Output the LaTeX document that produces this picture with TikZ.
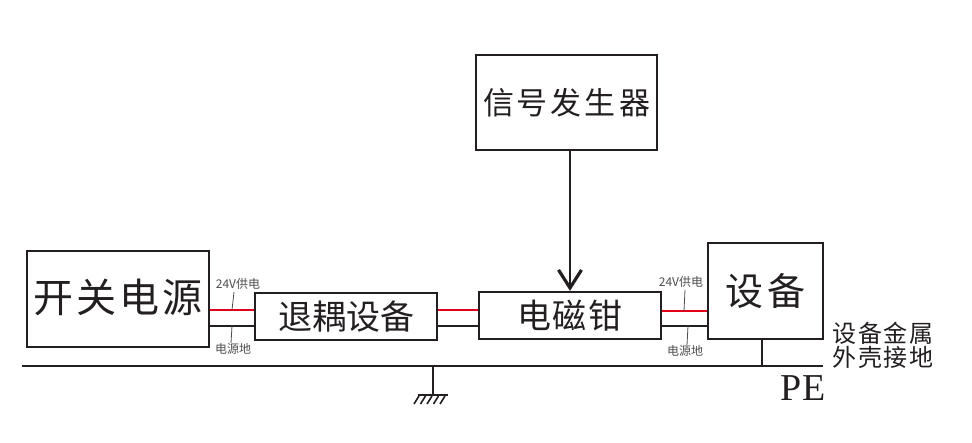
\documentclass[tikz,border=0pt]{standalone}
\usepackage{fontspec}
\setmainfont{Liberation Serif}
\newfontfamily\cjk{Noto Sans CJK SC}
\usetikzlibrary{arrows.meta,calc}
\definecolor{ink}{HTML}{231F20}
\definecolor{wirered}{HTML}{E2001A}
\definecolor{lblgray}{HTML}{4D4D4D}
\tikzset{
  box/.style={draw=ink, line width=2.2pt, rectangle, inner sep=0pt, text=ink, font=\cjk},
  wire/.style={draw=ink, line width=2.2pt},
  redwire/.style={draw=wirered, line width=2.6pt},
  leader/.style={draw=lblgray, line width=0.8pt},
  smalllbl/.style={text=lblgray, font=\cjk\fontsize{12}{12}\selectfont, inner sep=0pt},
}
\begin{document}
\begin{tikzpicture}[x=1pt,y=-1pt]
\useasboundingbox (0,0) rectangle (972,443);

% boxes
\node[box, minimum width=182pt, minimum height=96pt] (psu) at (118,299)
  {\raisebox{6pt}{\fontsize{40}{40}\selectfont 开\kern3pt 关\kern3pt 电\kern3pt 源}};
\node[box, minimum width=182pt, minimum height=47pt] (dec) at (346,316.5)
  {\fontsize{34}{34}\selectfont 退耦设备};
\node[box, minimum width=182pt, minimum height=47pt] (clamp) at (570,315.5)
  {\fontsize{34}{34}\selectfont 电\kern2pt 磁\kern2pt 钳};
\node[box, minimum width=181pt, minimum height=95pt] (sig) at (566.5,102.5)
  {\fontsize{31}{31}\selectfont 信\kern3pt 号\kern3pt 发\kern3pt 生\kern3pt 器};
\node[box, minimum width=115pt, minimum height=96pt] (dev) at (765.5,291)
  {\fontsize{38}{38}\selectfont 设\kern4pt 备};

% wires psu -> dec
\draw[redwire] (psu.east |- 0,310) -- (dec.west |- 0,310);
\draw[wire] (psu.east |- 0,326) -- (dec.west |- 0,326);
% dec -> clamp
\draw[redwire] (dec.east |- 0,310) -- (clamp.west |- 0,310);
\draw[wire] (dec.east |- 0,326) -- (clamp.west |- 0,326);
% clamp -> dev
\draw[redwire] (clamp.east |- 0,311) -- (dev.west |- 0,311);
\draw[wire] (clamp.east |- 0,326) -- (dev.west |- 0,326);

% signal generator -> clamp
\draw[wire, line width=2.4pt, -{Straight Barb[length=18pt,width=23pt,line width=3.2pt]}]
  (clamp.north |- sig.south) -- (clamp.north);

% labels left
\node[smalllbl] (l24a) at (238,284) {24V供电};
\node[smalllbl] (lgnda) at (233,349) {电源地};
\coordinate (la1) at (234,292); \coordinate (la2) at (232,310);
\coordinate (lb1) at (232,326); \coordinate (lb2) at (231,343);
\draw[leader] (la1) -- (la2);
\draw[leader] (lb1) -- (lb2);
% labels right
\node[smalllbl] (l24b) at (681,282) {24V供电};
\node[smalllbl] (lgndb) at (685,351) {电源地};
\coordinate (ra1) at (685,290); \coordinate (ra2) at (684,311);
\coordinate (rb1) at (688,326); \coordinate (rb2) at (687,345);
\draw[leader] (ra1) -- (ra2);
\draw[leader] (rb1) -- (rb2);

% PE line
\coordinate (pe1) at (22,366);
\coordinate (pe2) at (823,366);
\draw[wire] (pe1) -- (pe2);
\coordinate (devgnd) at (762,339);
\draw[wire] (devgnd) -- (devgnd |- pe2);

\node[text=ink, inner sep=0pt, font=\fontsize{38}{38}\selectfont] (pe) at (803.5,388) {P\kern1pt E};
\node[text=ink, inner sep=0pt, align=left, font=\cjk\fontsize{24}{24}\selectfont] (metal) at (883,345)
  {设\kern1.5pt 备\kern1.5pt 金\kern1.5pt 属\\[0pt]外\kern1.5pt 壳\kern1.5pt 接\kern1.5pt 地};

% earth symbol
\coordinate (g0) at (433,366);
\coordinate (g1) at (433,395);
\draw[wire] (g0) -- (g1);
\draw[wire] ($(g1)+(-15,0)$) -- ($(g1)+(15,0)$);
\foreach \dx in {-14,-7.5,-1,5.5,12}{
  \draw[ink, line width=1.6pt] ($(g1)+(\dx,1)$) -- ++(-5,8);
}
\end{tikzpicture}
\end{document}
